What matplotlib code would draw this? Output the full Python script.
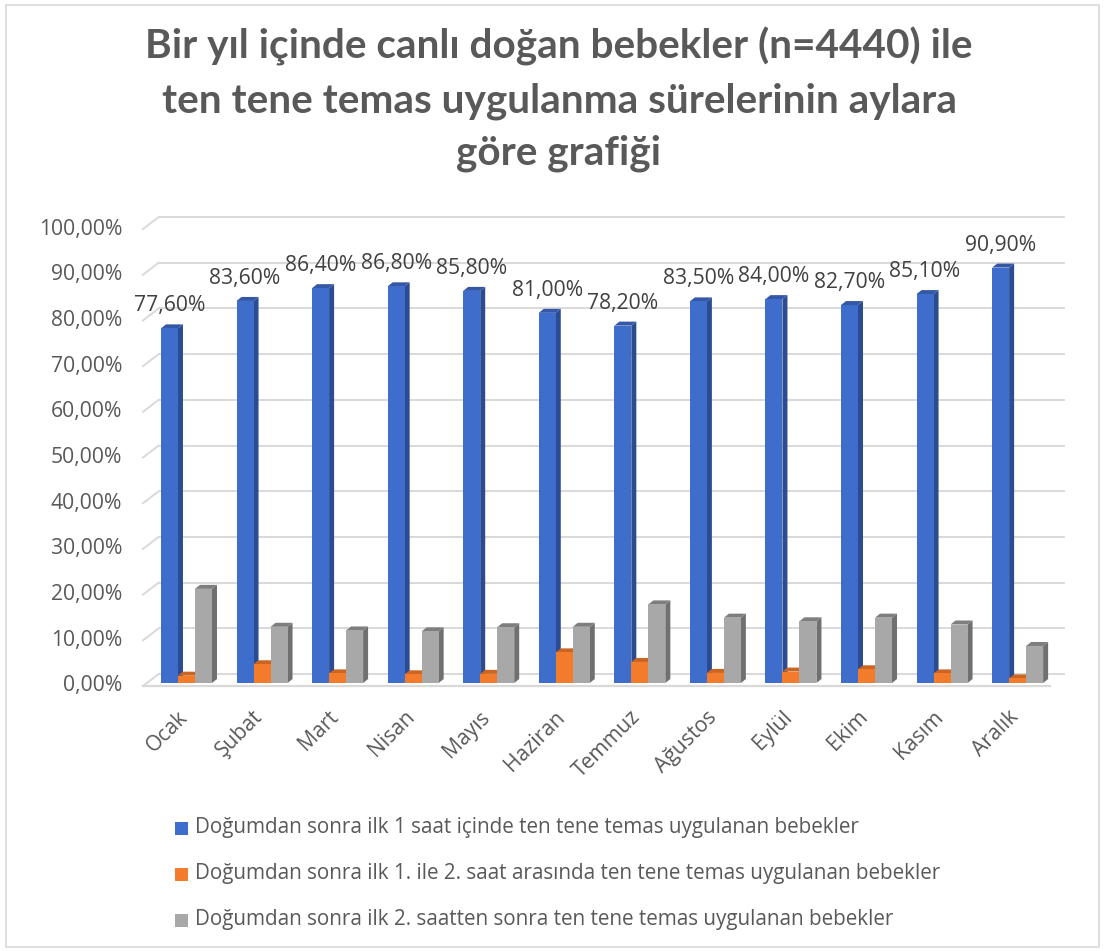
import matplotlib
matplotlib.use("Agg")
import matplotlib.pyplot as plt
from matplotlib.patches import Polygon, Rectangle

# ---- data -------------------------------------------------------------
months = ["Ocak", "Şubat", "Mart", "Nisan", "Mayıs", "Haziran",
          "Temmuz", "Ağustos", "Eylül", "Ekim", "Kasım", "Aralık"]
within_1h = [77.6, 83.6, 86.4, 86.8, 85.8, 81.0, 78.2, 83.5, 84.0, 82.7, 85.1, 90.9]
between_1_2h = [1.6, 4.1, 2.1, 1.9, 2.0, 6.7, 4.6, 2.2, 2.5, 3.0, 2.1, 1.0]
after_2h = [20.6, 12.3, 11.5, 11.3, 12.2, 12.3, 17.2, 14.3, 13.5, 14.3, 12.8, 8.1]
series_names = [
    "Doğumdan sonra ilk 1 saat içinde ten tene temas uygulanan bebekler",
    "Doğumdan sonra ilk 1. ile 2. saat arasında ten tene temas uygulanan bebekler",
    "Doğumdan sonra ilk 2. saatten sonra ten tene temas uygulanan bebekler",
]
y_ticks = list(range(0, 101, 10))
title_lines = ["Bir yıl içinde canlı doğan bebekler (n=4440) ile",
               "ten tene temas uygulanma sürelerinin aylara",
               "göre grafiği"]

# ---- styling ----------------------------------------------------------
# (front, side, top) shades for each series' 3-D columns
shades = [("#3f6dcc", "#2b4c90", "#3458a6"),
          ("#f27c2c", "#b65a1b", "#cc6522"),
          ("#a8a8a8", "#707070", "#7e7e7e")]
grid_col = "#d9d9d9"
text_col = "#595959"
label_col = "#404040"
body_font = "Open Sans"
body_size = 15.2

W, H, DPI = 1104, 951, 100
fig = plt.figure(figsize=(W / DPI, H / DPI), dpi=DPI)
fig.patch.set_facecolor("white")

# plot area in pixel units (origin top-left)
pa_left, pa_right, pa_top, pa_bottom = 148.7, 1055.4, 226.0, 683.0
ax = fig.add_axes([pa_left / W, 1 - pa_bottom / H,
                   (pa_right - pa_left) / W, (pa_bottom - pa_top) / H])
n = len(months)
ax.set_xlim(-0.5, n - 0.5)
ax.set_ylim(0, 100)
ax.axis("off")

px_x = n / (pa_right - pa_left)      # data units per pixel, horizontal
px_y = 100.0 / (pa_bottom - pa_top)  # data units per pixel, vertical

# depth of the columns and of the back wall, in pixels
col_dx, col_dy = 5.0, 4.0
wall_dx, wall_dy = 10.0, 9.0
front_dx, front_dy = -5.7, -3.0

# back wall gridlines with the slanted side-wall stubs
for v in y_ticks:
    yb = v + wall_dy * px_y
    ax.plot([-0.5 + wall_dx * px_x, n - 0.5 + wall_dx * px_x], [yb, yb],
            color=grid_col, lw=1.4, zorder=1, clip_on=False,
            solid_capstyle="butt")
    ax.plot([-0.5 + front_dx * px_x, -0.5 + wall_dx * px_x],
            [v + front_dy * px_y, yb],
            color=grid_col, lw=1.4, zorder=1, clip_on=False)
    ax.text(-0.5 - 26.7 * px_x, v + front_dy * px_y,
            f"{v:.2f}".replace(".", ",") + "%",
            ha="right", va="center", fontsize=body_size, color=text_col,
            family=body_font)

# front edge of the floor
ax.plot([-0.5 + front_dx * px_x, n - 0.5 + front_dx * px_x],
        [front_dy * px_y, front_dy * px_y],
        color=grid_col, lw=1.6, zorder=1, clip_on=False)

# ---- 3-D clustered columns -------------------------------------------
bar_w = 17.0 / 75.55
series = [within_1h, between_1_2h, after_2h]
ddx, ddy = col_dx * px_x, col_dy * px_y
for i in range(n):
    for s, vals in enumerate(series):
        v = vals[i]
        xc = i + (s - 1) * bar_w
        x0, x1 = xc - bar_w / 2, xc + bar_w / 2
        front, side, top = shades[s]
        z = 3 + (i * 3 + s) * 0.1
        ax.add_patch(Polygon([(x1, 0), (x1, v), (x1 + ddx, v + ddy), (x1 + ddx, ddy)],
                             closed=True, facecolor=side, edgecolor="none",
                             zorder=z, clip_on=False))
        ax.add_patch(Polygon([(x0, v), (x1, v), (x1 + ddx, v + ddy), (x0 + ddx, v + ddy)],
                             closed=True, facecolor=top, edgecolor="none",
                             zorder=z, clip_on=False))
        ax.bar(xc, v, width=bar_w, color=front, linewidth=0,
               zorder=z + 0.05, clip_on=False)

# value labels above the first series
for i, v in enumerate(within_1h):
    ax.text(i - bar_w, v + 17 * px_y, f"{v:.2f}".replace(".", ",") + "%",
            ha="center", va="baseline", fontsize=body_size, color=label_col,
            family=body_font, zorder=10)

# month labels, rotated
for i, m in enumerate(months):
    ax.text(i - 2 * px_x, -31 * px_y, m, rotation=45, rotation_mode="anchor",
            ha="right", va="center", fontsize=body_size, color=text_col,
            family=body_font)

# ---- title ------------------------------------------------------------
for line, base in zip(title_lines, [58, 112, 165]):
    fig.text(559 / W, 1 - base / H, line, ha="center", va="baseline",
             fontsize=29.2, fontweight="bold", color=text_col, family="Lato")

# ---- legend -----------------------------------------------------------
for s, name in enumerate(series_names):
    yc = 828 + s * 46
    fig.patches.append(Rectangle((175 / W, 1 - (yc + 6.5) / H), 13 / W, 13 / H,
                                 transform=fig.transFigure,
                                 facecolor=shades[s][0], edgecolor="none"))
    fig.text(195 / W, 1 - yc / H, name, ha="left", va="center",
             fontsize=14.9, color=text_col, family=body_font)

# chart border
fig.patches.append(Rectangle((6 / W, 4 / H), (1099 - 6) / W, (946 - 4) / H,
                             transform=fig.transFigure, facecolor="none",
                             edgecolor="#d9d9d9", lw=1.2))

fig.savefig("out.png", dpi=DPI, facecolor="white")
